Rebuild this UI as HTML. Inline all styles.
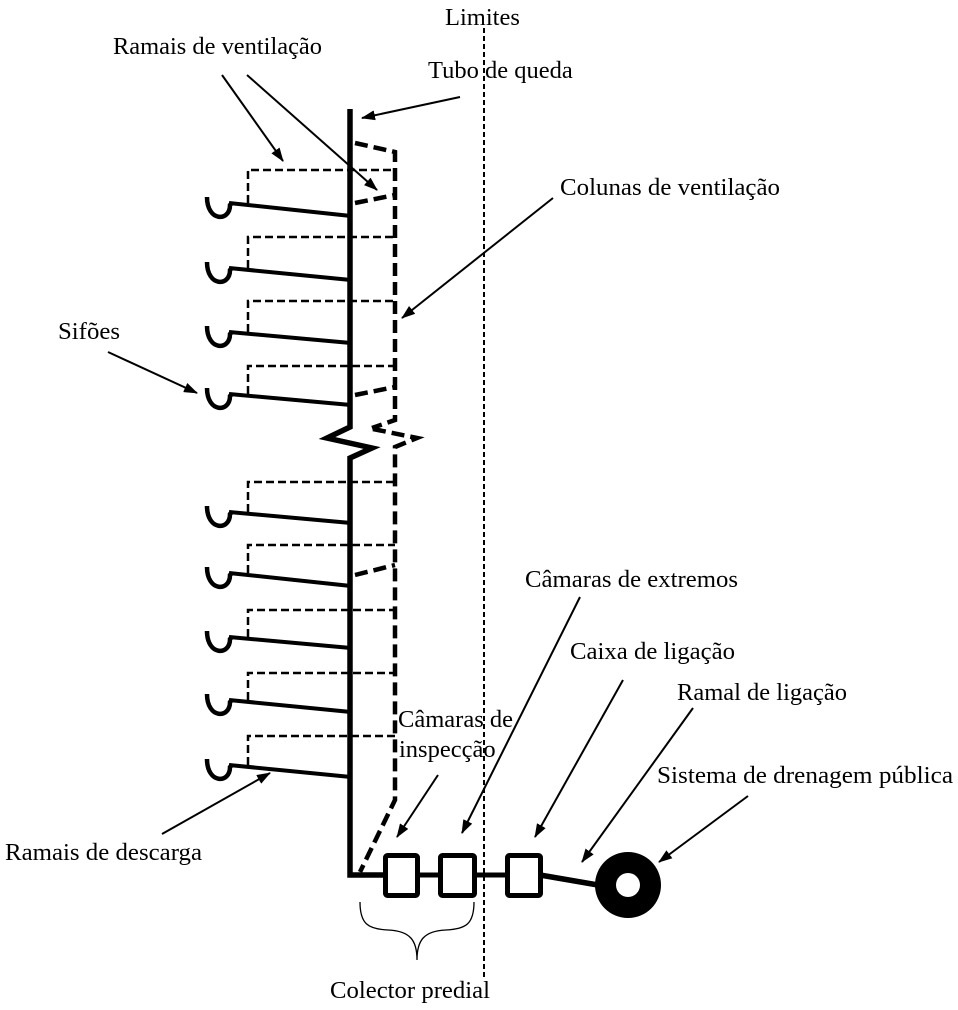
<!DOCTYPE html>
<html><head><meta charset="utf-8"><style>
html,body{margin:0;padding:0;background:#fff;}
svg{display:block;}
text{font-family:"Liberation Serif",serif;font-size:24.5px;fill:#000;}
</style></head><body>
<svg width="958" height="1010" viewBox="0 0 958 1010" xmlns="http://www.w3.org/2000/svg">
<defs>
<marker id="ah" markerUnits="userSpaceOnUse" markerWidth="14" markerHeight="10" refX="13" refY="5" orient="auto">
<path d="M0,0 L14,5 L0,10 z" fill="#000"/>
</marker>
</defs>

<!-- limit line -->
<line x1="484" y1="28" x2="484" y2="978" stroke="#000" stroke-width="2" stroke-dasharray="5 3"/>

<!-- thin dashed vent branches -->
<g fill="none" stroke="#000" stroke-width="2.5" stroke-dasharray="8 4">
<path d="M248,203 V170 H395"/>
<path d="M248,268 V237 H395"/>
<path d="M248,332 V301 H395"/>
<path d="M248,394 V366 H395"/>
<path d="M248,512 V482 H395"/>
<path d="M248,573 V545 H395"/>
<path d="M248,637 V610 H395"/>
<path d="M248,700 V673 H395"/>
<path d="M248,765 V736 H395"/>
</g>

<!-- thick dashed vent column -->
<g fill="none" stroke="#000" stroke-width="4.5" stroke-dasharray="13 6">
<path d="M355,143 L395,152 L395,420 L372,428"/>
<path d="M373,429 L417,438 L395,447 L395,800 L360,872"/>
<line x1="355" y1="203" x2="395" y2="195"/>
<line x1="355" y1="395" x2="395" y2="387"/>
<line x1="355" y1="575" x2="395" y2="565"/>
</g>

<!-- discharge branches -->
<g fill="none" stroke="#000" stroke-width="4">
<line x1="229" y1="203" x2="351" y2="216"/>
<line x1="229" y1="268" x2="351" y2="280"/>
<line x1="229" y1="332" x2="351" y2="343"/>
<line x1="229" y1="394" x2="351" y2="405"/>
<line x1="229" y1="512" x2="351" y2="523"/>
<line x1="229" y1="573" x2="351" y2="586"/>
<line x1="229" y1="637" x2="351" y2="648"/>
<line x1="229" y1="700" x2="351" y2="712"/>
<line x1="229" y1="765" x2="351" y2="777"/>
</g>

<!-- siphons -->
<g fill="none" stroke="#000" stroke-width="4.5" stroke-linecap="butt">
<path d="M207,197 C207,222 230,222 230,205 L232,203"/>
<path d="M207,262 C207,287 230,287 230,270 L232,268"/>
<path d="M207,326 C207,351 230,351 230,334 L232,332"/>
<path d="M207,388 C207,413 230,413 230,396 L232,394"/>
<path d="M207,506 C207,531 230,531 230,514 L232,512"/>
<path d="M207,567 C207,592 230,592 230,575 L232,573"/>
<path d="M207,631 C207,656 230,656 230,639 L232,637"/>
<path d="M207,694 C207,719 230,719 230,702 L232,700"/>
<path d="M207,759 C207,784 230,784 230,767 L232,765"/>
</g>

<!-- main stack -->
<path d="M350,109 V427 L327,438 L372,448 L350,458 V875 H386" fill="none" stroke="#000" stroke-width="5.5" stroke-linejoin="miter"/>
<line x1="418" y1="875" x2="441" y2="875" stroke="#000" stroke-width="5"/>
<line x1="475" y1="875" x2="508" y2="875" stroke="#000" stroke-width="5"/>
<line x1="540" y1="875" x2="598" y2="885" stroke="#000" stroke-width="5.5"/>

<!-- boxes -->
<g fill="#fff" stroke="#000" stroke-width="5">
<rect x="385.5" y="855.5" width="32" height="40" rx="2"/>
<rect x="440.5" y="855.5" width="34" height="40" rx="2"/>
<rect x="507.5" y="855.5" width="33" height="40" rx="2"/>
</g>

<!-- public drainage -->
<circle cx="628" cy="885" r="33" fill="#000"/>
<circle cx="628" cy="885" r="12" fill="#fff"/>

<!-- brace -->
<path d="M360,902 C360,924 368,929 388,930 C410,931 417,940 417,960 C417,940 424,931 446,930 C466,929 474,924 474,902" fill="none" stroke="#000" stroke-width="1.3"/>

<!-- arrows -->
<g stroke="#000" stroke-width="2" marker-end="url(#ah)">
<line x1="222" y1="75" x2="283" y2="161"/>
<line x1="247" y1="75" x2="377" y2="190"/>
<line x1="460" y1="97" x2="362" y2="118"/>
<line x1="553" y1="198" x2="402" y2="318"/>
<line x1="108" y1="352" x2="197" y2="393"/>
<line x1="162" y1="834" x2="270" y2="773"/>
<line x1="438" y1="775" x2="397" y2="837"/>
<line x1="580" y1="597" x2="462" y2="833"/>
<line x1="623" y1="680" x2="535" y2="837"/>
<line x1="693" y1="708" x2="582" y2="862"/>
<line x1="748" y1="796" x2="659" y2="862"/>
</g>

<!-- labels -->
<text x="445" y="25">Limites</text>
<text x="113" y="54" textLength="209" lengthAdjust="spacingAndGlyphs">Ramais de ventilação</text>
<text x="428" y="78">Tubo de queda</text>
<text x="560" y="195" textLength="220" lengthAdjust="spacingAndGlyphs">Colunas de ventilação</text>
<text x="58" y="339" textLength="62" lengthAdjust="spacingAndGlyphs">Sifões</text>
<text x="525" y="587" textLength="213" lengthAdjust="spacingAndGlyphs">Câmaras de extremos</text>
<text x="570" y="659" textLength="165" lengthAdjust="spacingAndGlyphs">Caixa de ligação</text>
<text x="677" y="700" textLength="170" lengthAdjust="spacingAndGlyphs">Ramal de ligação</text>
<text x="398" y="727" textLength="115" lengthAdjust="spacingAndGlyphs">Câmaras de</text>
<text x="399" y="757">inspecção</text>
<text x="657" y="783" textLength="296" lengthAdjust="spacingAndGlyphs">Sistema de drenagem pública</text>
<text x="5" y="860" textLength="197" lengthAdjust="spacingAndGlyphs">Ramais de descarga</text>
<text x="330" y="998" textLength="160" lengthAdjust="spacingAndGlyphs">Colector predial</text>
</svg>
</body></html>
